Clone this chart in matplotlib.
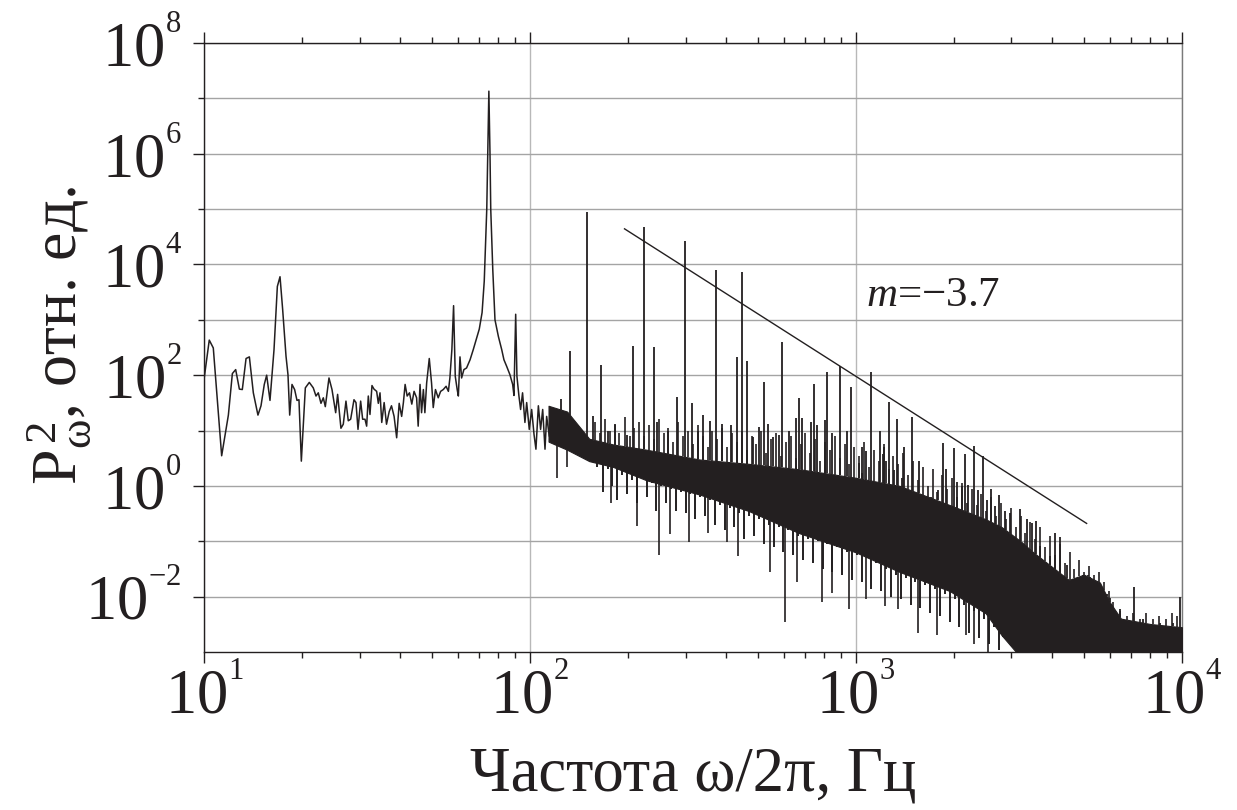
#!/usr/bin/env python3
"""
power spectrum P_w^2 vs frequency (log-log), 10 Hz .. 10 kHz
values read off the reference picture
"""

import numpy as np
import matplotlib
matplotlib.use("Agg")
import matplotlib.pyplot as plt
from matplotlib.ticker import FixedLocator, LogLocator, NullFormatter, FuncFormatter

# ── fonts ──────────────────────────────────────────────────────────
plt.rcParams["font.family"] = ["Liberation Serif", "DejaVu Serif"]
plt.rcParams["mathtext.fontset"] = "custom"
plt.rcParams["mathtext.rm"] = "Liberation Serif"
plt.rcParams["mathtext.it"] = "Liberation Serif:italic"
plt.rcParams["mathtext.bf"] = "Liberation Serif:bold"

INK  = "#231f20"
GRID = "#a4a4a4"

# ── low-frequency trace (Hz, rel. units) ───────────────────────────
low_f = [10.0, 10.38, 10.68, 11.33, 11.88, 12.22, 12.51, 12.84, 13.11, 13.46,
         13.78, 14.17, 14.64, 14.96, 15.31, 15.57, 15.94, 16.40, 16.79, 17.11,
         17.43, 17.85, 18.10, 18.32, 18.62, 18.97, 19.29, 19.56, 19.89, 20.46,
         21.04, 21.64, 22.06, 22.42, 22.85, 23.23, 23.56, 24.18, 24.70, 25.35,
         25.70, 26.31, 26.75, 27.26, 27.71, 28.18, 28.85, 29.26, 29.68, 30.24,
         30.67, 31.18, 31.55, 31.92, 32.30, 32.76, 33.23, 33.86, 34.26, 34.67,
         35.1, 35.7, 36.3, 37.0, 37.6, 38.3, 39.0, 39.7, 40.4, 40.9,
         41.4, 42.0, 42.7, 43.4, 44.1, 44.9, 45.4, 46.0, 46.5, 47.1,
         47.6, 48.2, 49.1, 49.9, 50.5, 51.3, 52.3, 53.2, 54.2, 55.3,
         56.2, 56.8, 57.6, 58.3, 59.0, 59.8, 60.3, 61.0, 61.7, 62.7,
         63.9, 65.5, 67.0, 68.6, 69.9, 71.3, 72.4, 73.7, 74.2, 74.8,
         75.4, 75.8, 76.9, 78.1, 80.0, 81.9, 83.2, 84.8, 86.8, 88.5,
         89.3, 90.4, 91.2, 92.5, 93.6, 94.9, 96.5, 97.7, 99.5, 101.2,
         102.9, 104.3, 106.1, 107.8, 109.4, 111.2, 112.5, 114.6]
low_p = [83, 430, 310, 3.5, 19, 107, 126, 56, 55, 200,
         214, 48, 19, 28, 68, 100, 35, 290, 4000, 6000,
         1550, 220, 102, 19, 68, 55, 35, 36, 2.8, 59,
         74, 59, 42, 48, 31, 39, 27, 89, 55, 21,
         45, 11, 13, 34, 15, 16, 36, 32, 10.5, 34,
         16, 16, 12, 42, 19.5, 65, 56, 51, 31, 48,
         14, 32, 13, 22, 28, 18, 7.4, 31, 18, 32,
         68, 42, 48, 30, 51, 39, 12, 68, 21, 55,
         21, 72, 200, 72, 26, 55, 39, 51, 55, 63,
         51, 89, 290, 1800, 95, 55, 42, 214, 89, 126,
         135, 190, 290, 470, 680, 1350, 5000, 1.0e5, 1.0e6, 1.35e7,
         1.0e6, 1.0e5, 8000, 1000, 500, 290, 190, 145, 102, 68,
         43, 1260, 95, 42, 24, 48, 14, 32, 10.5, 24,
         8.5, 4.6, 28, 10.5, 24, 4.6, 18, 8.0]

# ── dense high-frequency part: solid core of the noise band ────────
band_f  = [114, 130, 152, 180, 228, 331, 470, 670, 1000, 1360, 1940, 2500,
           2800, 3200, 3500, 4500, 5000, 5600, 6000, 6500, 8000, 10000]
band_hi = [28, 22, 7.1, 5.6, 4.5, 3.0, 2.5, 2.0, 1.4, 1.0, 0.45, 0.25,
           0.18, 0.1, 0.063, 0.02, 0.025, 0.018, 0.008, 0.004, 0.0032, 0.0028]
band_lo = [6.3, 4.5, 2.8, 2.2, 1.26, 0.7, 0.35, 0.14, 0.063, 0.028, 0.0126, 0.005,
           0.002, 0.0008, 0.0008, 0.0008, 0.0008, 0.0008, 0.0008, 0.0008,
           0.0008, 0.0008]

# ── harmonics and larger spikes above the band (Hz, peak value) ───
spike_f = [124.5, 132.6, 149.3, 156, 165.3, 174, 182, 198, 207, 223.7,
           239.5, 246, 266, 281.8, 298.2, 313, 328, 339.5, 355.6, 371.2,
           389, 413.6, 430.5, 446.8, 463.1, 484, 505, 521, 537, 558,
           580.3, 594.3, 623, 653.5, 668.8, 684.6, 726, 743, 761, 804,
           817, 846, 893, 936, 963, 1021, 1041, 1045, 1073, 1113,
           1185, 1213, 1219, 1237, 1262, 1311, 1333, 1380, 1406, 1482,
           1556, 1698, 1780, 1853, 1888, 2003, 2037, 2110, 2155, 2211,
           2301, 2373, 2453, 2517, 2595, 2669, 2748, 2864, 2968, 3187,
           3340, 3459, 3557, 3667, 3937, 4066, 4215, 4426, 4982, 5137,
           5223, 5738, 5875, 6012, 6450, 7145, 7611, 8560, 9406, 9893]
spike_p = [37, 270, 8.9e4, 18, 155, 10, 13, 8.3, 340, 4.7e4,
           320, 14.5, 10, 40, 2.6e4, 32, 10, 19, 15, 7800,
           13, 12.6, 214, 7200, 178, 7.8, 11.7, 74, 13, 7.8,
           8.3, 400, 10, 16.6, 38, 16.6, 14.5, 69, 12.6, 15.5,
           112, 8.9, 148, 10, 60, 2.6, 5.1, 1.7, 4.2, 112,
           9.8, 3.7, 5.1, 2.8, 33, 1.9, 16.2, 1.4, 5.0, 17.8,
           2.8, 0.62, 0.85, 6.0, 2.0, 4.9, 1.2, 0.98, 3.7, 1.05,
           5.2, 0.85, 3.5, 0.56, 0.89, 0.43, 0.69, 0.35, 0.32, 0.39,
           0.25, 0.21, 0.23, 0.081, 0.054, 0.14, 0.12, 0.038, 0.0155, 0.025,
           0.023, 0.0102, 0.011, 0.0095, 0.0059, 0.015, 0.0039, 0.0033, 0.0033, 0.010]

# ── fine fringe of small spikes on top of the band ─────────────────
fringe_f = [158, 164, 170, 176, 182, 188, 195, 202, 209, 216,
            224, 232, 240, 248, 257, 266, 275, 285, 295, 305,
            316, 327, 339, 351, 363, 376, 389, 403, 417, 431,
            447, 462, 479, 495, 513, 531, 549, 569, 589, 609,
            631, 653, 676, 700, 724, 750, 776, 803, 832, 861,
            891, 923, 955, 989, 1023, 1059, 1096, 1135, 1175, 1216,
            1259, 1303, 1349, 1396, 1445, 1496, 1549, 1603, 1660, 1718,
            1778, 1841, 1905, 1972, 2042, 2113, 2188, 2265, 2344, 2427,
            2512, 2600, 2692, 2786, 2884, 2985, 3090, 3199, 3311, 3428,
            3548, 3673, 3802, 3936, 4074, 4217, 4365, 4519, 4677, 4842,
            5012, 5188, 5370, 5559, 5754, 5957, 6166, 6457, 6761, 7079,
            7413, 7762, 8128, 8511, 8913, 9333, 9661]
fringe_p = [14, 8.9, 16, 10, 12.6, 8.9, 17.8, 7.9, 11.2, 14,
            7.9, 12.6, 7.1, 16, 8.9, 11.2, 6.3, 14, 7.9, 10,
            5.6, 12.6, 7.9, 5.0, 10, 7.1, 11.2, 5.0, 8.9, 6.3,
            10, 4.5, 7.9, 5.6, 10, 4.0, 7.1, 8.9, 3.5, 6.3,
            7.9, 3.2, 5.6, 8.9, 4.0, 7.1, 2.8, 6.3, 4.5, 7.9,
            3.2, 5.6, 2.5, 5.0, 3.5, 6.3, 2.2, 4.5, 2.8, 5.6,
            2.0, 3.5, 2.5, 4.0, 1.6, 2.8, 1.26, 2.2, 1.0, 2.0,
            0.79, 1.6, 0.89, 1.4, 0.63, 1.12, 0.5, 0.89, 0.45, 0.71,
            0.35, 0.63, 0.28, 0.5, 0.25, 0.4, 0.18, 0.28, 0.14, 0.22,
            0.11, 0.18, 0.079, 0.126, 0.056, 0.089, 0.04, 0.063, 0.032, 0.045,
            0.028, 0.035, 0.025, 0.028, 0.018, 0.0126, 0.0079, 0.0056, 0.0045, 0.005,
            0.004, 0.005, 0.004, 0.0045, 0.004, 0.005, 0.0045]

# ── fine fringe hanging under the band ─────────────────────────────
under_f = [161, 167, 173, 179, 185, 191.5, 198.5, 205.5, 212.5, 220,
           228, 236, 244, 252.5, 261.5, 270.5, 280, 290, 300, 310.5,
           321.5, 333, 345, 357, 369.5, 382.5, 396, 410, 424, 439,
           454.5, 470.5, 487, 504, 522, 540, 559, 579, 599, 620,
           642, 664.5, 688, 712, 737, 763, 789.5, 817.5, 846.5, 876,
           907, 939, 972, 1006, 1041, 1077.5, 1115.5, 1155, 1195.5, 1237.5,
           1281, 1326, 1372.5, 1420.5, 1470.5, 1522.5, 1576, 1631.5, 1689, 1748,
           1809.5, 1873, 1938.5, 2007, 2077.5, 2150.5, 2226.5, 2304.5, 2385.5, 2469.5,
           2556, 2646, 2739, 2835]
under_p = [2.2, 0.79, 2.0, 1.0, 0.56, 1.6, 0.71, 1.26, 0.5, 1.4,
           0.63, 1.12, 0.35, 1.0, 0.5, 0.89, 0.35, 0.79, 0.32, 0.71,
           0.25, 0.63, 0.28, 0.56, 0.2, 0.45, 0.16, 0.4, 0.18, 0.32,
           0.11, 0.28, 0.126, 0.25, 0.089, 0.2, 0.079, 0.18, 0.063, 0.16,
           0.056, 0.126, 0.045, 0.11, 0.04, 0.1, 0.032, 0.089, 0.028, 0.079,
           0.025, 0.063, 0.02, 0.056, 0.018, 0.05, 0.014, 0.04, 0.0126, 0.032,
           0.01, 0.025, 0.0089, 0.022, 0.0071, 0.018, 0.0063, 0.016, 0.005, 0.014,
           0.0045, 0.011, 0.0035, 0.0089, 0.0028, 0.0071, 0.0022, 0.0056, 0.0018, 0.004,
           0.0014, 0.0028, 0.0011, 0.002]

# ── deeper dips below the band (Hz, lowest value) ──────────────────
dip_f = [120.8, 130, 176.8, 212.3, 248.8, 268.9, 308.2, 352.5, 401, 434.5,
         544.5, 604.3, 657.7, 786.6, 842, 954.1, 1071, 1227, 1349, 1552,
         1775, 2183, 2300, 2535]
dip_p = [1.4, 2.2, 0.49, 0.19, 0.056, 0.135, 0.095, 0.14, 0.098, 0.054,
         0.028, 0.0035, 0.018, 0.0079, 0.0117, 0.006, 0.0091, 0.0068, 0.0059, 0.0022,
         0.002, 0.002, 0.0014, 0.001]

# ── power-law guide, slope m = -3.7 ────────────────────────────────
fit_f = [195, 5100]
fit_p = [4.4e4, 0.21]
fit_label = "$m$=\u22123.7"

# ── figure ─────────────────────────────────────────────────────────
fig = plt.figure(figsize=(12.37, 8.1), dpi=100)
ax = fig.add_axes([0.1649, 0.1951, 0.7906, 0.7518])
ax.set_xscale("log")
ax.set_yscale("log")
ax.set_xlim(10, 1e4)
ax.set_ylim(1e-3, 1e8)
ax.set_axisbelow(True)

ax.plot(low_f, low_p, color=INK, lw=1.1, zorder=3)
ax.fill_between(band_f, band_lo, band_hi, facecolor=INK, edgecolor=INK,
                lw=0.8, zorder=3)

# spikes / dips start from the band edge
lf_band = np.log10(band_f)
def edge(freqs, env):
    return 10 ** np.interp(np.log10(freqs), lf_band, np.log10(env))

ax.vlines(fringe_f, edge(fringe_f, band_hi), fringe_p, color=INK, lw=1.2, zorder=3)
ax.vlines(under_f, under_p, edge(under_f, band_lo), color=INK, lw=1.4, zorder=3)
ax.vlines(spike_f, edge(spike_f, band_hi), spike_p, color=INK, lw=1.3, zorder=3)
ax.vlines(dip_f, dip_p, edge(dip_f, band_lo), color=INK, lw=1.2, zorder=3)

ax.plot(fit_f, fit_p, color=INK, lw=1.0, zorder=4)
ax.text(1070, 1.8e3, fit_label, fontsize=31, color=INK, va="baseline")

# ── axes dressing ──────────────────────────────────────────────────
ax.yaxis.set_major_locator(FixedLocator([1e-2, 1, 1e2, 1e4, 1e6, 1e8]))
ax.yaxis.set_minor_locator(FixedLocator([1e-1, 10, 1e3, 1e5, 1e7]))
ax.yaxis.set_minor_formatter(NullFormatter())
ax.xaxis.set_major_locator(LogLocator(base=10))
ax.xaxis.set_minor_locator(LogLocator(base=10, subs=np.arange(2, 10)))
ax.xaxis.set_minor_formatter(NullFormatter())

pow10 = FuncFormatter(lambda v, p: r"$10^{{}^{%d}}$" % round(np.log10(v)))
ax.xaxis.set_major_formatter(pow10)
ax.yaxis.set_major_formatter(pow10)

ax.grid(True, which="major", axis="x", color="#b8b8b8", lw=1.0)
ax.grid(True, which="both", axis="y", color=GRID, lw=1.0)

ax.tick_params(which="both", direction="out", top=True, right=False,
               color=INK, width=1.0, labelsize=45, labelcolor=INK)
ax.tick_params(which="major", length=8)
ax.tick_params(which="minor", length=4.5)
ax.tick_params(axis="x", which="major", pad=3)
ax.tick_params(axis="y", which="major", pad=8)

for side in ("left", "bottom", "top"):
    ax.spines[side].set_color(INK)
    ax.spines[side].set_linewidth(1.0)
ax.spines["right"].set_color("#7a7a7a")
ax.spines["right"].set_linewidth(1.0)

ax.set_xlabel("Частота ω/2π, Гц", fontsize=45, color=INK, labelpad=14)
ax.set_ylabel(r"$\mathrm{P}_{\mathrm{ω}}^{\,2}$, отн. ед.", fontsize=46, color=INK)
ax.yaxis.set_label_coords(-0.113, 0.52)

fig.savefig("out.png", dpi=100)
